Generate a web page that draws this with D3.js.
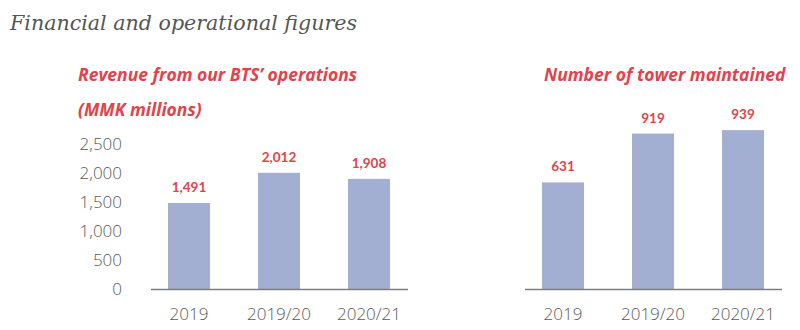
<!DOCTYPE html>
<html>
<head>
<meta charset="utf-8">
<script src="https://cdn.jsdelivr.net/npm/d3@7"></script>
<style>
  html, body { margin: 0; padding: 0; background: #fff; }
  svg { display: block; }
</style>
</head>
<body>
<svg id="chart" width="800" height="330"></svg>
<script>
// Fiscal periods shared by both panels
const periods = ["2019", "2019/20", "2020/21"];
// Revenue from BTS operations, MMK millions
const revenue = [1491, 2012, 1908];
// Number of towers maintained
const towers = [631, 919, 939];
// Left panel y-axis ticks
const revenueTicks = [0, 500, 1000, 1500, 2000, 2500];

const svg = d3.select("#chart");
const red = "#e0434b";
const barFill = "#a2aed2";
const gray = "#595959";
const valueFont = "Lato, 'Open Sans', sans-serif";
const axisFont = "'Open Sans', sans-serif";

// Page heading
svg.append("text")
  .attr("x", 10).attr("y", 30)
  .attr("font-family", "'DejaVu Serif', serif")
  .attr("font-style", "italic")
  .attr("font-size", 20.6)
  .attr("fill", "#555")
  .text("Financial and operational figures");

function panel(opts) {
  const x = d3.scaleBand().domain(periods).range(opts.xRange).paddingInner(0.533).paddingOuter(0.2665);
  const y = d3.scaleLinear().domain(opts.yDomain).range([289.5, opts.yTop]);
  const g = svg.append("g");

  // Bars
  g.selectAll("rect.bar").data(opts.values).join("rect")
    .attr("class", "bar")
    .attr("x", (d, i) => x(periods[i]))
    .attr("width", x.bandwidth())
    .attr("y", d => y(d))
    .attr("height", d => y(0) - y(d))
    .attr("fill", barFill);

  // Value labels above the bars
  g.selectAll("text.val").data(opts.values).join("text")
    .attr("class", "val")
    .attr("x", (d, i) => x(periods[i]) + x.bandwidth() / 2)
    .attr("y", d => y(d) - 11)
    .attr("text-anchor", "middle")
    .attr("font-family", valueFont)
    .attr("font-weight", "bold")
    .attr("font-size", 13.5)
    .attr("fill", red)
    .text(d => d3.format(",")(d));

  // Baseline
  const r = x.range();
  g.append("line")
    .attr("x1", r[0] + 7).attr("x2", r[1] - 6)
    .attr("y1", y(0)).attr("y2", y(0))
    .attr("stroke", "#7f7f7f").attr("stroke-width", 1.5);

  // Category labels
  const xAxis = d3.axisBottom(x).tickSize(0).tickPadding(0);
  const xg = g.append("g").attr("transform", `translate(0,${y(0)})`).call(xAxis);
  xg.select(".domain").remove();
  xg.selectAll("text")
    .attr("dy", 0).attr("y", 30.5)
    .attr("font-family", axisFont)
    .attr("font-weight", 300)
    .attr("font-size", 17)
    .attr("fill", gray);

  if (opts.ticks) {
    const yAxis = d3.axisLeft(y).tickValues(opts.ticks).tickSize(0).tickPadding(0).tickFormat(d3.format(","));
    const yg = g.append("g").attr("transform", "translate(122,0)").call(yAxis);
    yg.select(".domain").remove();
    yg.selectAll("text")
      .attr("font-family", axisFont)
      .attr("font-weight", 300)
      .attr("font-size", 17)
      .attr("fill", gray);
  }

  // Panel title
  opts.title.forEach((line, i) => {
    svg.append("text")
      .attr("x", opts.titleX).attr("y", 81 + i * 35)
      .attr("font-family", axisFont)
      .attr("font-weight", "bold")
      .attr("font-style", "italic")
      .attr("font-size", 17.5)
      .attr("fill", red)
      .text(line);
  });
}

panel({
  xRange: [144, 414],
  yDomain: [0, 2500],
  yTop: 144.5,
  values: revenue,
  ticks: revenueTicks,
  title: ["Revenue from our BTS\u2019 operations", "(MMK millions)"],
  titleX: 78
});

panel({
  xRange: [518, 788],
  yDomain: [0, 1000],
  yTop: 119.8,
  values: towers,
  ticks: null,
  title: ["Number of tower maintained"],
  titleX: 544
});
</script>
</body>
</html>
